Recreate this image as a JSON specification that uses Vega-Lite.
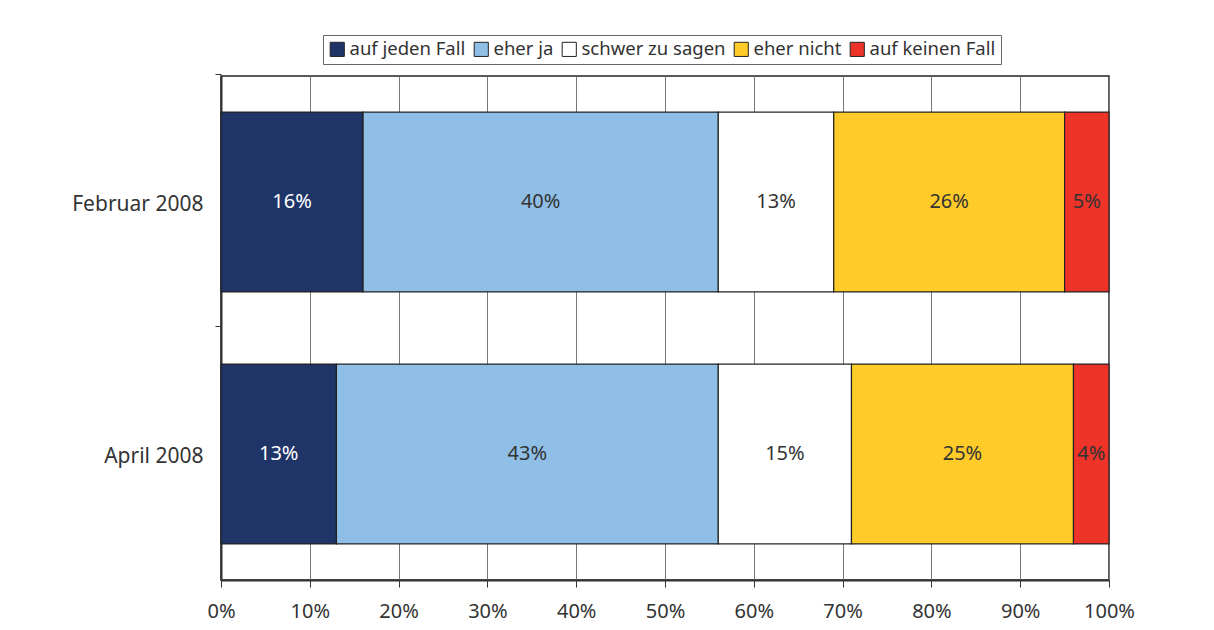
{
  "$schema": "https://vega.github.io/schema/vega-lite/v6.json",
  "width": 888,
  "height": 504,
  "autosize": {"type": "none"},
  "padding": {"left": 221, "top": 76, "right": 105, "bottom": 50},
  "background": "white",
  "config": {
    "font": "Noto Sans",
    "view": {"stroke": "#222", "strokeWidth": 1.5}
  },
  "data": {
    "values": [
      {"period": "Februar 2008", "cat": "auf jeden Fall", "order": 1, "value": 16, "label": "16%"},
      {"period": "Februar 2008", "cat": "eher ja", "order": 2, "value": 40, "label": "40%"},
      {"period": "Februar 2008", "cat": "schwer zu sagen", "order": 3, "value": 13, "label": "13%"},
      {"period": "Februar 2008", "cat": "eher nicht", "order": 4, "value": 26, "label": "26%"},
      {"period": "Februar 2008", "cat": "auf keinen Fall", "order": 5, "value": 5, "label": "5%"},
      {"period": "April 2008", "cat": "auf jeden Fall", "order": 1, "value": 13, "label": "13%"},
      {"period": "April 2008", "cat": "eher ja", "order": 2, "value": 43, "label": "43%"},
      {"period": "April 2008", "cat": "schwer zu sagen", "order": 3, "value": 15, "label": "15%"},
      {"period": "April 2008", "cat": "eher nicht", "order": 4, "value": 25, "label": "25%"},
      {"period": "April 2008", "cat": "auf keinen Fall", "order": 5, "value": 4, "label": "4%"}
    ]
  },
  "transform": [
    {"stack": "value", "groupby": ["period"], "sort": [{"field": "order"}], "as": ["v0", "v1"]},
    {"calculate": "(datum.v0 + datum.v1) / 2", "as": "mid"}
  ],
  "layer": [
    {
      "mark": {"type": "bar", "stroke": "#222", "strokeWidth": 1.2},
      "encoding": {
        "y": {
          "field": "period", "type": "nominal", "sort": ["Februar 2008", "April 2008"],
          "scale": {"paddingInner": 0.286, "paddingOuter": 0.143},
          "axis": {"title": null, "orient": "left", "ticks": false, "labelFontSize": 21, "labelColor": "#333", "labelPadding": 18, "labelOffset": 3, "domainColor": "#333", "domainWidth": 2}
        },
        "x": {
          "field": "v0", "type": "quantitative", "scale": {"domain": [0, 100], "nice": false},
          "axis": {
            "title": null, "values": [0, 10, 20, 30, 40, 50, 60, 70, 80, 90, 100],
            "labelExpr": "datum.value + '%'", "labelFontSize": 20, "labelColor": "#333",
            "labelPadding": 14, "tickSize": 7, "tickColor": "#333", "domainColor": "#333", "domainWidth": 2,
            "grid": true, "gridColor": "#777", "gridWidth": 1, "labelFlush": false
          }
        },
        "x2": {"field": "v1"},
        "color": {
          "field": "cat", "type": "nominal",
          "scale": {
            "domain": ["auf jeden Fall", "eher ja", "schwer zu sagen", "eher nicht", "auf keinen Fall"],
            "range": ["#1f3568", "#8fbfe6", "#ffffff", "#ffcb29", "#ee3329"]
          },
          "legend": {
            "title": null, "orient": "none", "legendX": 102, "legendY": -41, "direction": "horizontal",
            "labelFontSize": 18.5, "labelColor": "#333", "symbolType": "square", "symbolSize": 200,
            "symbolStrokeColor": "#222", "symbolStrokeWidth": 1, "symbolOpacity": 1,
            "strokeColor": "#666", "padding": 5, "columnPadding": 6, "labelOffset": 3
          }
        }
      }
    },
    {
      "mark": {"type": "text", "fontSize": 20, "baseline": "middle", "align": "center"},
      "encoding": {
        "y": {"field": "period", "type": "nominal", "sort": ["Februar 2008", "April 2008"],
          "axis": {"title": null, "orient": "left", "labels": false, "domain": false, "ticks": true, "tickSize": 6, "tickColor": "#333", "bandPosition": -0.211}},
        "x": {"field": "mid", "type": "quantitative"},
        "text": {"field": "label"},
        "color": {"condition": {"test": "datum.cat === 'auf jeden Fall'", "value": "#ffffff"}, "value": "#333333"}
      }
    }
  ],
  "resolve": {"axis": {"y": "independent"}}
}
